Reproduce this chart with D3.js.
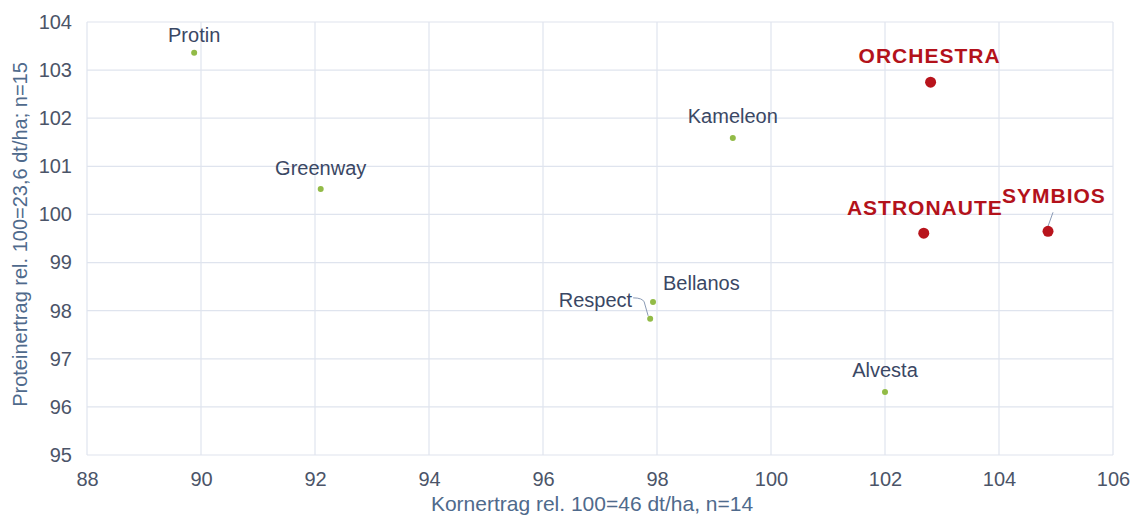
<!DOCTYPE html>
<html>
<head>
  <meta charset="utf-8">
  <script src="https://d3js.org/d3.v7.min.js"></script>
  <style>
    body { margin: 0; background: #fff; }
    text { font-family: "Liberation Sans", Arial, sans-serif; }
    .tick text { font-size: 20px; fill: #4b5468; }
    .grid line { stroke: #dfe4ee; stroke-width: 1.2; }
    .axis-title { font-size: 21px; fill: #4f6a8c; text-anchor: middle; }
    .lbl { font-size: 20px; fill: #3a4764; }
    .lbl-hl { font-size: 21px; font-weight: bold; fill: #b3121b; letter-spacing: 1px; }
  </style>
</head>
<body>
  <svg width="1132" height="517"></svg>
  <script>
    // data
    var varieties = ["Protin", "Greenway", "Kameleon", "Bellanos", "Respect", "Alvesta", "ORCHESTRA", "ASTRONAUTE", "SYMBIOS"];
    var kornertrag = [89.88, 92.1, 99.33, 97.93, 97.88, 102.0, 102.8, 102.68, 104.86];
    var proteinertrag = [103.36, 100.53, 101.59, 98.18, 97.83, 96.31, 102.75, 99.61, 99.65];
    var highlighted = [false, false, false, false, false, false, true, true, true];
    var xTicks = [88, 90, 92, 94, 96, 98, 100, 102, 104, 106];
    var yTicks = [95, 96, 97, 98, 99, 100, 101, 102, 103, 104];

    // label placement relative to the point: dx, dy, anchor
    var labelPos = {
      "Protin": [0, -11, "middle"],
      "Greenway": [0, -14, "middle"],
      "Kameleon": [0, -15, "middle"],
      "Bellanos": [10, -12, "start"],
      "Respect": [-18, -12, "end"],
      "Alvesta": [0, -15, "middle"],
      "ORCHESTRA": [-1, -19, "middle"],
      "ASTRONAUTE": [79, -18, "end"],
      "SYMBIOS": [-46, -28, "start"]
    };

    var svg = d3.select("svg"),
        margin = {top: 22, right: 19, bottom: 62, left: 87},
        width = +svg.attr("width") - margin.left - margin.right,
        height = +svg.attr("height") - margin.top - margin.bottom;

    var g = svg.append("g").attr("transform", "translate(" + margin.left + "," + margin.top + ")");

    var x = d3.scaleLinear().domain([88, 106]).range([0, width]);
    var y = d3.scaleLinear().domain([95, 104]).range([height, 0]);

    // grid
    g.append("g").attr("class", "grid")
      .selectAll("line").data(xTicks).enter().append("line")
      .attr("x1", d => x(d)).attr("x2", d => x(d))
      .attr("y1", 0).attr("y2", height);
    g.append("g").attr("class", "grid")
      .selectAll("line").data(yTicks).enter().append("line")
      .attr("x1", 0).attr("x2", width)
      .attr("y1", d => y(d)).attr("y2", d => y(d));

    g.append("g")
      .attr("transform", "translate(0," + height + ")")
      .call(d3.axisBottom(x).tickValues(xTicks).tickSize(0).tickPadding(17))
      .call(a => a.select(".domain").remove());

    g.append("g")
      .call(d3.axisLeft(y).tickValues(yTicks).tickSize(0).tickPadding(15))
      .call(a => a.select(".domain").remove());

    svg.append("text").attr("class", "axis-title")
      .attr("x", 592).attr("y", 511)
      .text("Kornertrag rel. 100=46 dt/ha, n=14");

    svg.append("text").attr("class", "axis-title")
      .style("font-size", "20px")
      .attr("transform", "translate(27," + (margin.top + height / 2 - 4) + ") rotate(-90)")
      .text("Proteinertrag rel. 100=23,6 dt/ha; n=15");

    var data = varieties.map((v, i) => ({name: v, x: kornertrag[i], y: proteinertrag[i], hl: highlighted[i]}));

    // leader lines
    var respect = data.find(d => d.name === "Respect");
    g.append("path")
      .attr("d", "M" + (x(respect.x) - 17) + "," + (y(respect.y) - 21) +
                 " q9,0 11,4 L" + (x(respect.x) - 2) + "," + (y(respect.y) - 3))
      .attr("fill", "none").attr("stroke", "#8a9ab5").attr("stroke-width", 1);
    var symb = data.find(d => d.name === "SYMBIOS");
    g.append("line")
      .attr("x1", x(symb.x) + 5).attr("y1", y(symb.y) - 19)
      .attr("x2", x(symb.x)).attr("y2", y(symb.y) - 5)
      .attr("stroke", "#8a9ab5").attr("stroke-width", 1);

    g.selectAll(".dot").data(data).enter().append("circle")
      .attr("class", "dot")
      .attr("cx", d => x(d.x)).attr("cy", d => y(d.y))
      .attr("r", d => d.hl ? 5.5 : 3)
      .attr("fill", d => d.hl ? "#b8141c" : "#92bb47");

    g.selectAll(".lbl").data(data).enter().append("text")
      .attr("class", d => d.hl ? "lbl-hl" : "lbl")
      .attr("x", d => x(d.x) + labelPos[d.name][0])
      .attr("y", d => y(d.y) + labelPos[d.name][1])
      .attr("text-anchor", d => labelPos[d.name][2])
      .text(d => d.name);
  </script>
</body>
</html>
